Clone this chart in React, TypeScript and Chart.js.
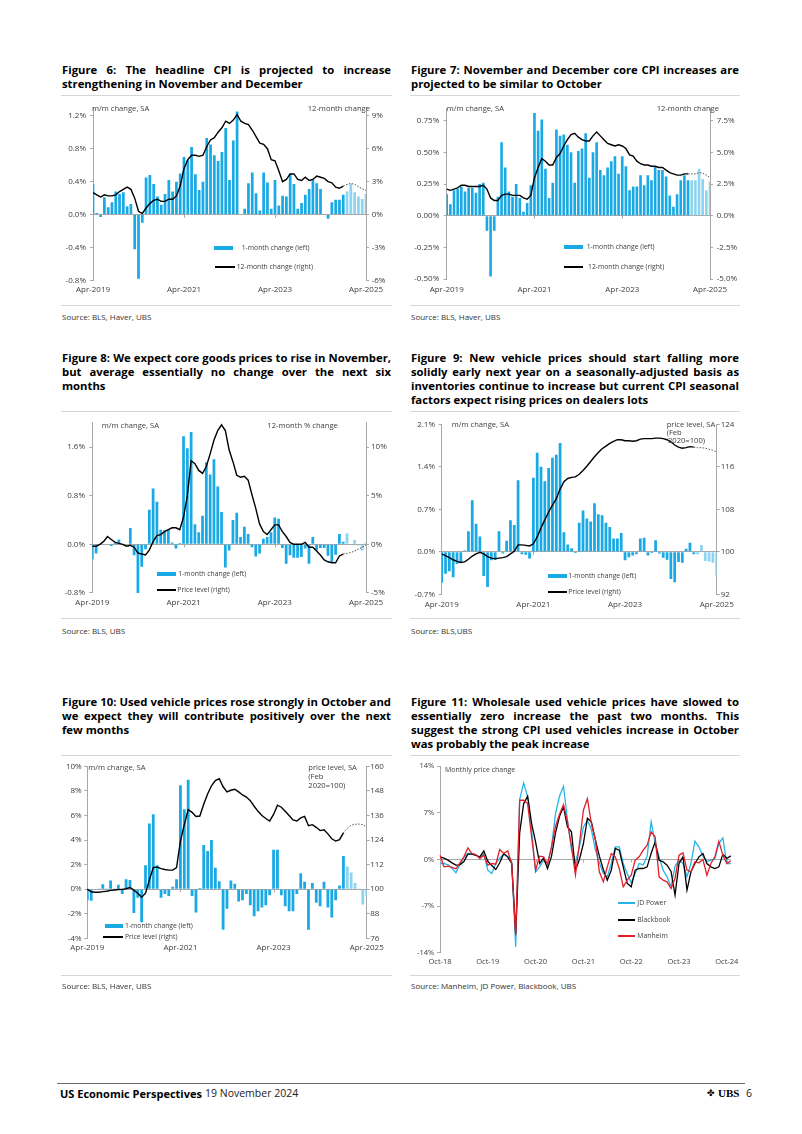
import React, { useEffect, useRef } from "react";
import { Chart, registerables } from "chart.js";

Chart.register(...registerables);

const FONT = "'Open Sans', 'Noto Sans', sans-serif";
const BAR = "#19A9E5";
const BAR_F = "#8ED3EF";
const AXIS = "#A8A8A8";
const TICK_TXT = "#404040";
const JD_BLUE = "#27B4E8";
const MAN_RED = "#E3202A";

Chart.defaults.font.family = FONT;

// ---------------- categories ----------------
const MONTHS = [
  "Apr-2019", "May-2019", "Jun-2019", "Jul-2019", "Aug-2019", "Sep-2019", "Oct-2019", "Nov-2019", "Dec-2019",
  "Jan-2020", "Feb-2020", "Mar-2020", "Apr-2020", "May-2020", "Jun-2020", "Jul-2020", "Aug-2020", "Sep-2020", "Oct-2020", "Nov-2020", "Dec-2020",
  "Jan-2021", "Feb-2021", "Mar-2021", "Apr-2021", "May-2021", "Jun-2021", "Jul-2021", "Aug-2021", "Sep-2021", "Oct-2021", "Nov-2021", "Dec-2021",
  "Jan-2022", "Feb-2022", "Mar-2022", "Apr-2022", "May-2022", "Jun-2022", "Jul-2022", "Aug-2022", "Sep-2022", "Oct-2022", "Nov-2022", "Dec-2022",
  "Jan-2023", "Feb-2023", "Mar-2023", "Apr-2023", "May-2023", "Jun-2023", "Jul-2023", "Aug-2023", "Sep-2023", "Oct-2023", "Nov-2023", "Dec-2023",
  "Jan-2024", "Feb-2024", "Mar-2024", "Apr-2024", "May-2024", "Jun-2024", "Jul-2024", "Aug-2024", "Sep-2024", "Oct-2024", "Nov-2024", "Dec-2024",
  "Jan-2025", "Feb-2025", "Mar-2025", "Apr-2025",
];

const WHOLESALE_MONTHS = [
  "Oct-18", "Nov-18", "Dec-18",
  "Jan-19", "Feb-19", "Mar-19", "Apr-19", "May-19", "Jun-19", "Jul-19", "Aug-19", "Sep-19", "Oct-19", "Nov-19", "Dec-19",
  "Jan-20", "Feb-20", "Mar-20", "Apr-20", "May-20", "Jun-20", "Jul-20", "Aug-20", "Sep-20", "Oct-20", "Nov-20", "Dec-20",
  "Jan-21", "Feb-21", "Mar-21", "Apr-21", "May-21", "Jun-21", "Jul-21", "Aug-21", "Sep-21", "Oct-21", "Nov-21", "Dec-21",
  "Jan-22", "Feb-22", "Mar-22", "Apr-22", "May-22", "Jun-22", "Jul-22", "Aug-22", "Sep-22", "Oct-22", "Nov-22", "Dec-22",
  "Jan-23", "Feb-23", "Mar-23", "Apr-23", "May-23", "Jun-23", "Jul-23", "Aug-23", "Sep-23", "Oct-23", "Nov-23", "Dec-23",
  "Jan-24", "Feb-24", "Mar-24", "Apr-24", "May-24", "Jun-24", "Jul-24", "Aug-24", "Sep-24", "Oct-24", "Nov-24",
];

// ---------------- Figure 6: headline CPI ----------------
const CPI_MM = [0.37, 0.02, -0.03, 0.21, 0.09, 0.15, 0.28, 0.25, 0.27, 0.10, 0.13, -0.42, -0.78, -0.10, 0.45, 0.48, 0.37, 0.22, 0.12, 0.25, 0.42, 0.28, 0.40, 0.50, 0.70, 0.66, 0.82, 0.49, 0.30, 0.40, 0.93, 0.85, 0.72, 0.65, 0.76, 1.05, 0.42, 0.90, 1.25, 0.00, 0.07, 0.38, 0.51, 0.26, 0.05, 0.51, 0.39, 0.07, 0.42, 0.11, 0.23, 0.22, 0.50, 0.37, 0.07, 0.14, 0.24, 0.31, 0.42, 0.38, 0.31, 0.00, -0.05, 0.15, 0.18, 0.18, 0.24];
const CPI_MM_F = [0.28, 0.37, 0.27, 0.22, 0.19, 0.25];
const CPI_YY = [2.0, 1.8, 1.6, 1.8, 1.7, 1.7, 1.8, 2.1, 2.3, 2.5, 2.3, 1.5, 0.3, 0.1, 0.6, 1.0, 1.3, 1.4, 1.2, 1.2, 1.4, 1.4, 1.7, 2.6, 4.2, 5.0, 5.4, 5.4, 5.3, 5.4, 6.2, 6.8, 7.0, 7.5, 7.9, 8.5, 8.3, 8.6, 9.1, 8.5, 8.3, 8.2, 7.7, 7.1, 6.5, 6.4, 6.0, 5.0, 4.9, 4.0, 3.0, 3.2, 3.7, 3.7, 3.2, 3.1, 3.4, 3.1, 3.2, 3.5, 3.4, 3.3, 3.0, 2.9, 2.5, 2.4, 2.6];
const CPI_YY_F = [2.6, 2.75, 2.85, 2.75, 2.55, 2.35, 2.2];
const F6_LEFT_TICKS = [-0.8, -0.4, 0, 0.4, 0.8, 1.2];
const F6_RIGHT_TICKS = [-6, -3, 0, 3, 6, 9];

// ---------------- Figure 7: core CPI ----------------
const CORE_MM = [0.17, 0.09, 0.20, 0.21, 0.23, 0.19, 0.22, 0.22, 0.18, 0.25, 0.26, -0.12, -0.48, -0.12, 0.15, 0.58, 0.38, 0.19, 0.15, 0.25, 0.14, 0.03, 0.10, 0.24, 0.81, 0.67, 0.76, 0.37, 0.14, 0.26, 0.68, 0.63, 0.64, 0.56, 0.50, 0.26, 0.51, 0.53, 0.65, 0.30, 0.50, 0.58, 0.36, 0.32, 0.38, 0.43, 0.47, 0.33, 0.47, 0.39, 0.20, 0.23, 0.23, 0.32, 0.24, 0.32, 0.28, 0.39, 0.36, 0.36, 0.31, 0.16, 0.07, 0.17, 0.28, 0.32, 0.28];
const CORE_MM_F = [0.28, 0.28, 0.37, 0.29, 0.20, 0.27];
const CORE_YY = [2.1, 2.0, 2.1, 2.2, 2.4, 2.4, 2.3, 2.3, 2.3, 2.3, 2.4, 2.1, 1.4, 1.2, 1.2, 1.6, 1.7, 1.7, 1.6, 1.6, 1.6, 1.4, 1.3, 1.6, 3.0, 3.8, 4.5, 4.3, 4.0, 4.0, 4.6, 4.9, 5.5, 6.0, 6.4, 6.5, 6.2, 6.0, 5.9, 5.9, 6.3, 6.6, 6.3, 6.0, 5.7, 5.6, 5.5, 5.6, 5.5, 5.3, 4.8, 4.7, 4.3, 4.1, 4.0, 4.0, 3.9, 3.9, 3.8, 3.8, 3.6, 3.4, 3.3, 3.2, 3.2, 3.3, 3.3];
const CORE_YY_F = [3.3, 3.3, 3.3, 3.4, 3.35, 3.2, 3.0];
const F7_LEFT_TICKS = [-0.5, -0.25, 0, 0.25, 0.5, 0.75];
const F7_RIGHT_TICKS = [-5, -2.5, 0, 2.5, 5, 7.5];

// ---------------- Figure 8: core goods ----------------
const GOODS_MM = [-0.25, -0.15, 0.0, 0.01, 0.01, -0.03, 0.02, 0.08, 0.01, 0.01, 0.27, -0.18, -0.8, -0.37, -0.08, 0.57, 0.92, 0.7, 0.24, 0.23, 0.24, 0.03, -0.07, 0.02, 1.78, 1.58, 1.85, 0.33, 0.2, 0.47, 1.35, 1.15, 1.4, 0.95, 0.53, -0.38, -0.1, 0.4, 0.52, 0.12, 0.29, 0.17, -0.05, -0.2, -0.15, 0.09, 0.12, 0.2, 0.44, 0.42, -0.06, -0.32, -0.18, -0.22, -0.22, -0.21, -0.07, -0.32, 0.12, -0.1, -0.06, -0.06, -0.19, -0.3, -0.17, 0.17, 0.04];
const GOODS_MM_F = [0.18, 0.01, 0.07, -0.02, -0.1, 0.03];
const GOODS_YY = [-0.2, -0.2, 0.0, 0.3, 0.8, 0.5, 0.2, 0.1, 0.0, -0.2, -0.1, -0.3, -0.9, -1.0, -1.1, -0.6, 0.3, 0.9, 1.0, 1.3, 1.5, 1.7, 1.7, 1.5, 2.8, 5.0, 8.6, 8.3, 7.6, 7.3, 8.0, 9.3, 10.7, 11.7, 12.3, 11.7, 9.7, 8.5, 7.1, 6.9, 7.0, 6.6, 5.1, 3.7, 2.1, 1.3, 1.0, 1.5, 2.0, 2.0, 1.3, 0.8, 0.2, 0.0, 0.0, 0.0, 0.2, -0.3, -0.3, -0.7, -1.1, -1.6, -1.8, -1.9, -1.9, -1.2, -1.0];
const GOODS_YY_F = [-1.0, -0.95, -0.85, -0.7, -0.5, -0.3, -0.1];
const F8_LEFT_TICKS = [-0.8, 0, 0.8, 1.6];
const F8_RIGHT_TICKS = [-5, 0, 5, 10];

// ---------------- Figure 9: new vehicles ----------------
const NEWVEH_MM = [-0.51, -0.36, -0.32, -0.42, -0.20, -0.18, 0.02, 0.34, 0.85, 0.46, 0.25, -0.40, -0.58, -0.14, -0.13, 0.34, -0.03, 0.18, 0.52, 0.44, 1.18, -0.04, -0.05, -0.11, 1.22, 1.63, 1.40, 1.16, 1.38, 1.55, 1.60, 1.79, 0.32, 0.12, 0.06, -0.02, 0.48, 0.68, 0.55, 0.50, 0.80, 0.62, 0.60, 0.48, 0.41, 0.22, 0.22, 0.31, -0.14, -0.09, -0.06, -0.04, 0.22, 0.23, -0.06, -0.02, 0.19, -0.03, -0.10, -0.13, -0.45, -0.50, -0.17, -0.18, 0.05, 0.15, -0.04];
const NEWVEH_MM_F = [-0.04, 0.11, -0.15, -0.16, -0.18, -0.40];
const NEWVEH_LVL = [99.6, 99.3, 98.9, 98.5, 98.2, 98.0, 98.1, 98.6, 99.2, 99.6, 99.9, 99.6, 99.1, 98.8, 98.7, 98.8, 98.9, 99.1, 99.6, 100.1, 101.3, 101.3, 101.2, 101.1, 101.5, 102.8, 104.5, 106.0, 107.5, 108.8, 110.0, 111.8, 113.2, 113.8, 114.0, 114.1, 114.6, 115.3, 116.1, 117.0, 117.9, 118.7, 119.4, 119.9, 120.4, 120.8, 121.1, 121.1, 120.9, 120.9, 120.8, 120.9, 121.2, 121.3, 121.3, 121.3, 121.4, 121.4, 121.3, 121.1, 120.7, 120.1, 119.7, 119.5, 119.6, 119.8, 119.7];
const NEWVEH_LVL_F = [119.7, 119.6, 119.6, 119.5, 119.3, 119.1, 118.8];
const F9_LEFT_TICKS = [-0.7, 0, 0.7, 1.4, 2.1];
const F9_RIGHT_TICKS = [92, 100, 108, 116, 124];

// ---------------- Figure 10: used vehicles ----------------
const USED_MM = [-0.9, -0.95, 0.0, 0.05, 0.4, 0.05, 0.7, 0.05, 0.35, -0.4, 0.8, 0.75, -1.95, -0.7, -2.7, 1.95, 5.35, 6.1, 1.95, -0.7, -0.4, -0.55, 0.2, 0.8, 8.45, 6.5, 8.9, -0.55, -1.9, 0.1, 3.6, 3.1, 4.0, 1.75, 0.65, -3.3, -1.6, 0.7, 0.45, -1.0, -0.9, -0.4, -1.3, -2.2, -1.8, -1.5, -1.3, -0.5, 3.2, 3.2, -0.5, -1.4, -1.8, -1.8, -0.4, 1.3, 0.6, -3.3, 0.5, -1.1, -1.4, 0.6, -1.5, -2.3, -0.9, 0.3, 2.7];
const USED_MM_F = [1.85, 1.35, 0.5, 0.05, -1.25, -0.6];
const USED_LVL = [100, 98.7, 98.5, 98.5, 98.8, 99.0, 99.4, 99.6, 99.8, 99.9, 100.2, 100.8, 99.5, 98.0, 96.0, 98.0, 104.5, 110.5, 110.8, 110.0, 109.6, 109.3, 109.3, 110.5, 123.5, 131.5, 138.8, 137.5, 135.5, 135.7, 141.5, 146.5, 150.5, 153.0, 154.0, 150.0, 147.5, 148.3, 148.8, 147.5, 146.0, 145.0, 143.2, 140.5, 138.0, 136.0, 134.5, 133.3, 136.5, 141.0, 140.0, 138.0, 136.0, 133.8, 133.3, 134.8, 135.5, 131.0, 131.5, 130.2, 128.6, 129.0, 127.0, 124.6, 123.5, 124.2, 127.5];
const USED_LVL_F = [127.5, 129.8, 131.2, 131.7, 131.8, 131.5, 130.3];
const F10_LEFT_TICKS = [-4, -2, 0, 2, 4, 6, 8, 10];
const F10_RIGHT_TICKS = [76, 88, 100, 112, 124, 136, 148, 160];

// ---------------- Figure 11: wholesale used vehicle prices ----------------
const JDPOWER = [-0.6, -0.6, -0.8, -1.3, -2.0, -0.7, 0.3, 0.9, 0.9, 0.7, 0.3, 0.9, -1.6, -2.1, -0.6, 0.2, 0.8, 0.4, -0.3, -13.1, 9.0, 11.5, 9.4, 4.4, -1.85, -1.1, -0.1, -0.6, 1.9, 6.9, 9.5, 11.0, 5.9, 1.5, -0.5, 1.9, 4.9, 5.9, 4.5, 1.5, -0.5, -2.1, -2.6, -0.6, 1.9, 1.9, -0.6, -2.1, -3.5, -2.1, -0.6, -0.8, 0.5, 5.65, 2.5, 0.4, -1.6, -2.6, -4.1, -1.0, -0.1, -0.6, -2.6, -0.6, 2.75, 1.9, 0.5, -0.3, -0.1, 0.1, 2.4, 3.25, -0.6, -0.6];
const BLACKBOOK = [0.4, 0.2, -0.1, -0.5, -0.85, -0.8, -0.3, 0.8, 0.8, 0.6, 0.4, 1.3, -0.3, -0.9, -1.5, -0.5, 0.9, 0.4, -0.6, -11.1, 4.0, 8.4, 9.5, 5.4, 2.6, -0.6, 0.2, -1.35, 0.5, 4.0, 6.5, 7.9, 4.9, 4.15, -1.6, 0.0, 2.4, 6.2, 5.65, 3.0, 0.5, -1.5, -3.1, -1.6, 1.65, 1.4, -1.1, -3.6, -4.1, -1.6, -1.35, -1.35, -1.1, 0.9, 2.65, -0.1, -0.35, -0.85, -1.8, -5.35, -0.6, 0.4, -4.6, -1.85, -0.6, 0.4, 0.9, -0.6, -1.1, -1.35, -1.1, 0.8, 0.15, 0.55];
const MANHEIM = [0.65, -1.1, -1.0, -1.2, -1.4, -0.5, 0.4, 1.75, 0.9, 0.75, 0.15, 0.65, -0.85, -0.6, -0.7, 1.5, 0.9, 1.3, -0.6, -11.4, 8.9, 8.9, 8.4, 3.4, -1.6, 0.5, 0.4, -0.7, 1.9, 5.0, 6.8, 8.25, 5.65, 2.0, -2.35, 2.4, 7.4, 9.15, 5.4, 3.0, -1.85, -3.35, -1.1, 0.9, 0.4, -1.35, -4.1, -3.1, -2.35, -0.1, 0.4, 1.4, 2.15, 4.15, 3.4, -2.6, -3.1, -3.35, -4.35, -2.85, 0.65, 1.0, -1.6, -1.85, -0.35, -0.5, 0.0, -2.35, -0.6, 0.4, 2.75, 0.65, -0.6, -0.2];
const F11_TICKS = [-14, -7, 0, 7, 14];

// ---------------- helpers ----------------
type Box = { cx: number; cy: number; cw: number; ch: number; L: number; R: number; T: number; B: number };

function zeroTicks(every: number, len = 3) {
  return {
    id: "zeroTicks",
    beforeDatasetsDraw(chart: any) {
      const xs = chart.scales.x;
      const ys = chart.scales.y;
      const y0 = ys.getPixelForValue(0);
      const n = chart.data.labels.length;
      const ctx = chart.ctx;
      ctx.save();
      ctx.strokeStyle = AXIS;
      ctx.lineWidth = 1;
      for (let i = every; i < n - 1; i += every) {
        const px = Math.round(xs.getPixelForValue(i)) + 0.5;
        ctx.beginPath();
        ctx.moveTo(px, y0);
        ctx.lineTo(px, y0 + len);
        ctx.stroke();
      }
      ctx.restore();
    },
  };
}

function yAxis(box: Box, side: "left" | "right", min: number, max: number, ticks: number[], fmt: (v: number) => string, pad: number, size = 8) {
  return {
    type: "linear",
    position: side,
    min,
    max,
    afterBuildTicks: (s: any) => {
      s.ticks = ticks.map((v) => ({ value: v }));
    },
    ticks: { padding: pad, font: { size, family: FONT }, color: TICK_TXT, callback: (v: any) => fmt(Number(v)) },
    grid: side === "left"
      ? { drawOnChartArea: true, color: (c: any) => (c.tick && Math.abs(c.tick.value) < 1e-9 ? AXIS : "rgba(0,0,0,0)"), tickColor: AXIS, tickLength: 3, lineWidth: 1 }
      : { drawOnChartArea: false, color: AXIS, tickColor: AXIS, tickLength: 3, lineWidth: 1 },
    border: { display: true, color: AXIS, width: 1 },
    afterFit: (s: any) => {
      s.width = side === "left" ? box.L - box.cx : box.cx + box.cw - box.R;
    },
  };
}

function xAxis(box: Box, labels: string[], every: number, pad: number, size = 8) {
  return {
    type: "category",
    offset: false,
    grid: { display: false, drawTicks: false },
    border: { display: false },
    ticks: {
      autoSkip: false,
      maxRotation: 0,
      minRotation: 0,
      padding: pad,
      font: { size, family: FONT },
      color: TICK_TXT,
      callback: (_v: any, i: number) => (i % every === 0 ? labels[i] : null),
    },
    afterFit: (s: any) => {
      s.height = box.cy + box.ch - box.B;
    },
  };
}

function dualConfig(o: any) {
  const box: Box = o.box;
  const n = MONTHS.length;
  const barData = [...o.bars, ...o.barsF];
  const colors = barData.map((_: any, i: number) => (i < o.bars.length ? BAR : BAR_F));
  const lineData = [...o.line, ...new Array(n - o.line.length).fill(null)];
  const lineFData = [...new Array(n - o.lineF.length).fill(null), ...o.lineF];
  return {
    type: "bar",
    data: {
      labels: MONTHS,
      datasets: [
        { type: "line", data: lineData, yAxisID: "y2", borderColor: "#000", borderWidth: 1.4, pointRadius: 0, order: 0 },
        { type: "line", data: lineFData, yAxisID: "y2", borderColor: "#555", borderWidth: 1, borderDash: [1.5, 1.5], pointRadius: 0, order: 0 },
        { type: "bar", data: barData, yAxisID: "y", backgroundColor: colors, barPercentage: 0.72, categoryPercentage: 1, order: 1 },
      ],
    },
    options: {
      responsive: false,
      maintainAspectRatio: false,
      animation: false,
      layout: { padding: { top: box.T - box.cy, left: 0, right: 0, bottom: 0 } },
      plugins: { legend: { display: false }, tooltip: { enabled: false } },
      scales: {
        x: xAxis(box, MONTHS, 24, o.xPad),
        y: yAxis(box, "left", o.yMin, o.yMax, o.yTicks, o.yFmt, o.yPad),
        y2: yAxis(box, "right", o.rMin, o.rMax, o.rTicks, o.rFmt, o.rPad),
      },
    },
    plugins: [zeroTicks(24)],
  };
}

function ChartCanvas({ box, make }: { box: Box; make: () => any }) {
  const ref = useRef<HTMLCanvasElement | null>(null);
  useEffect(() => {
    if (!ref.current) return;
    const c = new Chart(ref.current, make());
    return () => c.destroy();
  }, []);
  return (
    <canvas
      ref={ref}
      width={box.cw}
      height={box.ch}
      style={{ position: "absolute", left: box.cx, top: box.cy, width: box.cw, height: box.ch }}
    />
  );
}

function Txt({ x, cy, size = 7.6, color = "#404040", bold = false, right = false, family = FONT, children }: any) {
  const h = Math.round(size * 1.4);
  const style: any = {
    position: "absolute",
    top: cy - h / 2,
    height: h,
    lineHeight: h + "px",
    fontSize: size,
    color,
    fontWeight: bold ? 700 : 400,
    whiteSpace: "nowrap",
    fontFamily: family,
  };
  if (right) {
    style.left = x - 300;
    style.width = 300;
    style.textAlign = "right";
  } else style.left = x;
  return <div style={style}>{children}</div>;
}

function Title({ x, top, w, lines }: any) {
  return (
    <div style={{ position: "absolute", left: x, top, width: w, fontFamily: FONT, fontWeight: 700, fontSize: 11.3, lineHeight: "14px", color: "#000" }}>
      {lines.map((l: string, i: number) => {
        const last = i === lines.length - 1;
        return (
          <div key={i} style={{ textAlign: last ? "left" : "justify", textAlignLast: last ? "left" : "justify", whiteSpace: "nowrap" } as any}>
            {l}
          </div>
        );
      })}
    </div>
  );
}

function HLine({ x1, x2, y, color = "#D6D6D6" }: any) {
  return <div style={{ position: "absolute", left: x1, top: y, width: x2 - x1, height: 1, background: color }} />;
}

function LegRect({ x, w, cy, color }: any) {
  return <div style={{ position: "absolute", left: x, top: cy - 2.2, width: w, height: 4.4, background: color }} />;
}

function LegLine({ x, w, cy, color }: any) {
  return <div style={{ position: "absolute", left: Math.round(x), top: Math.round(cy - 1), width: Math.round(w), height: 2, background: color }} />;
}

// ---------------- boxes (canvas + plot area) ----------------
const BOX6: Box = { cx: 50, cy: 95, cw: 350, ch: 205, L: 93, R: 366, T: 107.5, B: 280.5 };
const BOX7: Box = { cx: 400, cy: 95, cw: 350, ch: 205, L: 446.7, R: 710, T: 108, B: 279 };
const BOX8: Box = { cx: 50, cy: 410, cw: 350, ch: 205, L: 92.3, R: 366, T: 422.8, B: 592.9 };
const BOX9: Box = { cx: 400, cy: 410, cw: 350, ch: 205, L: 441.7, R: 716.7, T: 424.3, B: 594.3 };
const BOX10: Box = { cx: 45, cy: 752, cw: 355, ch: 208, L: 87.3, R: 366.7, T: 766.3, B: 938.3 };
const BOX11: Box = { cx: 400, cy: 752, cw: 345, ch: 222, L: 440, R: 730.8, T: 766.3, B: 952.7 };

const pct = (d: number) => (v: number) => v.toFixed(d) + "%";
const num = (v: number) => v.toFixed(0);

const make6 = () =>
  dualConfig({
    box: BOX6, bars: CPI_MM, barsF: CPI_MM_F, line: CPI_YY, lineF: CPI_YY_F,
    yMin: -0.8, yMax: 1.3, yTicks: F6_LEFT_TICKS, yFmt: pct(1), yPad: 4,
    rMin: -6, rMax: 9.75, rTicks: F6_RIGHT_TICKS, rFmt: pct(0), rPad: 2.7, xPad: 4.7,
  });

const make7 = () =>
  dualConfig({
    box: BOX7, bars: CORE_MM, barsF: CORE_MM_F, line: CORE_YY, lineF: CORE_YY_F,
    yMin: -0.5, yMax: 0.85, yTicks: F7_LEFT_TICKS, yFmt: pct(2), yPad: 4.4,
    rMin: -5, rMax: 8.5, rTicks: F7_RIGHT_TICKS, rFmt: pct(1), rPad: 3.7, xPad: 6.2,
  });

const make8 = () =>
  dualConfig({
    box: BOX8, bars: GOODS_MM, barsF: GOODS_MM_F, line: GOODS_YY, lineF: GOODS_YY_F,
    yMin: -0.8, yMax: 2.0, yTicks: F8_LEFT_TICKS, yFmt: pct(1), yPad: 4.3,
    rMin: -5, rMax: 12.5, rTicks: F8_RIGHT_TICKS, rFmt: pct(0), rPad: 2, xPad: 4.6,
  });

const make9 = () =>
  dualConfig({
    box: BOX9, bars: NEWVEH_MM, barsF: NEWVEH_MM_F, line: NEWVEH_LVL, lineF: NEWVEH_LVL_F,
    yMin: -0.7, yMax: 2.1, yTicks: F9_LEFT_TICKS, yFmt: pct(1), yPad: 3.7,
    rMin: 92, rMax: 124, rTicks: F9_RIGHT_TICKS, rFmt: num, rPad: 1, xPad: 5.9,
  });

const make10 = () =>
  dualConfig({
    box: BOX10, bars: USED_MM, barsF: USED_MM_F, line: USED_LVL, lineF: USED_LVL_F,
    yMin: -4, yMax: 10, yTicks: F10_LEFT_TICKS, yFmt: pct(0), yPad: 2.6,
    rMin: 76, rMax: 160, rTicks: F10_RIGHT_TICKS, rFmt: num, rPad: 0.5, xPad: 4.6,
  });

const make11 = () => {
  const box = BOX11;
  const line = (data: number[], color: string, order: number) => ({
    data, borderColor: color, borderWidth: 1.3, pointRadius: 0, order, tension: 0,
  });
  return {
    type: "line",
    data: {
      labels: WHOLESALE_MONTHS,
      datasets: [line(JDPOWER, JD_BLUE, 2), line(BLACKBOOK, "#000", 1), line(MANHEIM, MAN_RED, 0)],
    },
    options: {
      responsive: false,
      maintainAspectRatio: false,
      animation: false,
      layout: { padding: { top: box.T - box.cy, left: 0, right: box.cx + box.cw - box.R, bottom: 0 } },
      plugins: { legend: { display: false }, tooltip: { enabled: false } },
      scales: {
        x: xAxis(box, WHOLESALE_MONTHS, 12, 4.5, 7.5),
        y: yAxis(box, "left", -14, 14, F11_TICKS, pct(0), 2.7, 7.5),
      },
    },
    plugins: [zeroTicks(12)],
  };
};

// ---------------- App ----------------
export default function App() {
  const LX = 62;
  const LW = 329;
  const RX = 411;
  const RW = 328;
  return (
    <div style={{ position: "absolute", left: 0, top: 0, width: 802, height: 1134, background: "#fff", overflow: "hidden", fontFamily: FONT }}>
      {/* Titles */}
      <Title x={LX} top={63} w={LW} lines={["Figure 6: The headline CPI is projected to increase", "strengthening in November and December"]} />
      <Title x={RX} top={63} w={RW} lines={["Figure 7: November and December core CPI increases are", "projected to be similar to October"]} />
      <Title x={LX} top={350.7} w={LW} lines={["Figure 8: We expect core goods prices to rise in November,", "but average essentially no change over the next six", "months"]} />
      <Title x={RX} top={350.7} w={RW} lines={["Figure 9: New vehicle prices should start falling more", "solidly early next year on a seasonally-adjusted basis as", "inventories continue to increase but current CPI seasonal", "factors expect rising prices on dealers lots"]} />
      <Title x={LX} top={694.7} w={LW} lines={["Figure 10: Used vehicle prices rose strongly in October and", "we expect they will contribute positively over the next", "few months"]} />
      <Title x={RX} top={694.7} w={RW} lines={["Figure 11: Wholesale used vehicle prices have slowed to", "essentially zero increase the past two months. This", "suggest the strong CPI used vehicles increase in October", "was probably the peak increase"]} />

      {/* separators */}
      <HLine x1={61} x2={392} y={95} />
      <HLine x1={410} x2={740} y={95} />
      <HLine x1={61} x2={392} y={305} />
      <HLine x1={410} x2={740} y={305} />
      <HLine x1={61} x2={392} y={411} />
      <HLine x1={410} x2={740} y={411} />
      <HLine x1={61} x2={392} y={618} />
      <HLine x1={410} x2={740} y={618} />
      <HLine x1={61} x2={392} y={755} />
      <HLine x1={410} x2={740} y={755} />
      <HLine x1={61} x2={392} y={975} />
      <HLine x1={410} x2={740} y={975} />

      {/* charts */}
      <ChartCanvas box={BOX6} make={make6} />
      <ChartCanvas box={BOX7} make={make7} />
      <ChartCanvas box={BOX8} make={make8} />
      <ChartCanvas box={BOX9} make={make9} />
      <ChartCanvas box={BOX10} make={make10} />
      <ChartCanvas box={BOX11} make={make11} />

      {/* axis captions */}
      <Txt x={92} cy={108}>m/m change, SA</Txt>
      <Txt x={370} cy={108} right>12-month change</Txt>
      <Txt x={446.7} cy={108.3}>m/m change, SA</Txt>
      <Txt x={719} cy={108.3} right>12-month change</Txt>
      <Txt x={101.7} cy={425}>m/m change, SA</Txt>
      <Txt x={267.3} cy={425}>12-month % change</Txt>
      <Txt x={451.7} cy={424.3}>m/m change, SA</Txt>
      <Txt x={666.7} cy={424.3}>price level, SA</Txt>
      <Txt x={666.7} cy={432.5}>(Feb</Txt>
      <Txt x={668} cy={440.7}>2020=100)</Txt>
      <Txt x={88.3} cy={767.7}>m/m change, SA</Txt>
      <Txt x={308.3} cy={767.7}>price level, SA</Txt>
      <Txt x={308.3} cy={776.7}>(Feb</Txt>
      <Txt x={308.3} cy={785.7}>2020=100)</Txt>
      <Txt x={445} cy={770} size={7}>Monthly price change</Txt>

      {/* legends */}
      <LegRect x={214} w={19} cy={248.3} color={BAR} />
      <Txt x={241.7} cy={248.3} size={6.8}>1-month change (left)</Txt>
      <LegLine x={215} w={20} cy={267.3} color="#000" />
      <Txt x={236.7} cy={267.3} size={6.8}>12-month change (right)</Txt>

      <LegRect x={564.3} w={19} cy={246.7} color={BAR} />
      <Txt x={586.7} cy={246.7} size={6.8}>1-month change (left)</Txt>
      <LegLine x={564.3} w={19} cy={267.3} color="#000" />
      <Txt x={588} cy={267.3} size={6.8}>12-month change (right)</Txt>

      <LegRect x={156.7} w={19.3} cy={574.3} color={BAR} />
      <Txt x={178.3} cy={574.3} size={6.8}>1-month change (left)</Txt>
      <LegLine x={156.7} w={19.3} cy={590} color="#000" />
      <Txt x={177.3} cy={590} size={6.8}>Price level (right)</Txt>

      <LegRect x={547.7} w={19} cy={575.7} color={BAR} />
      <Txt x={568.3} cy={575.7} size={6.8}>1-month change (left)</Txt>
      <LegLine x={547.7} w={19} cy={591.7} color="#000" />
      <Txt x={568.3} cy={591.7} size={6.8}>Price level (right)</Txt>

      <LegRect x={105} w={18.3} cy={926.3} color={BAR} />
      <Txt x={125} cy={926.3} size={6.8}>1-month change (left)</Txt>
      <LegLine x={103.3} w={20} cy={937.3} color="#000" />
      <Txt x={125} cy={937.3} size={6.8}>Price level (right)</Txt>

      <LegLine x={618.3} w={16.7} cy={903.3} color={JD_BLUE} />
      <Txt x={637.3} cy={903.3} size={6.9}>JD Power</Txt>
      <LegLine x={618.3} w={16.7} cy={920} color="#000" />
      <Txt x={637.3} cy={920} size={6.9}>Blackbook</Txt>
      <LegLine x={618.3} w={16.7} cy={935.7} color={MAN_RED} />
      <Txt x={637.3} cy={935.7} size={6.9}>Manheim</Txt>

      {/* sources */}
      <Txt x={62} cy={316} size={8} color="#333">Source: BLS, Haver, UBS</Txt>
      <Txt x={411} cy={316} size={8} color="#333">Source: BLS, Haver, UBS</Txt>
      <Txt x={62} cy={630} size={8} color="#333">Source: BLS, UBS</Txt>
      <Txt x={411} cy={630} size={8} color="#333">Source: BLS,UBS</Txt>
      <Txt x={62} cy={985} size={8} color="#333">Source: BLS, Haver, UBS</Txt>
      <Txt x={411} cy={985} size={8} color="#333">Source: Manheim, JD Power, Blackbook, UBS</Txt>

      {/* footer */}
      <HLine x1={57} x2={745} y={1083} color="#6A6A6A" />
      <Txt x={60} cy={1093} size={11} bold color="#000">US Economic Perspectives</Txt>
      <Txt x={205} cy={1093} size={10.5} color="#222">19 November 2024</Txt>
      <Txt x={707} cy={1093} size={9} color="#000" family="'DejaVu Sans', sans-serif">✤</Txt>
      <Txt x={718} cy={1093} size={11} bold color="#000" family="'Liberation Serif', serif">UBS</Txt>
      <Txt x={746} cy={1093} size={10.5} color="#222">6</Txt>
    </div>
  );
}
